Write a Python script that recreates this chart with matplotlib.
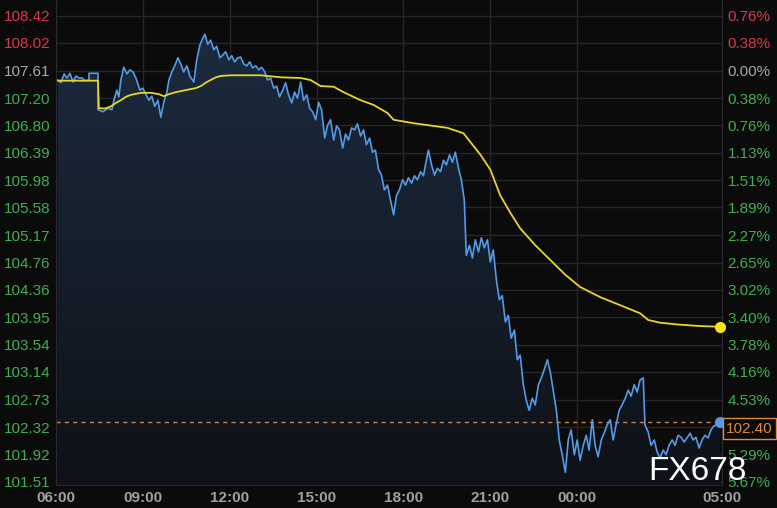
import numpy as np
import matplotlib
matplotlib.use("Agg")
from matplotlib import pyplot as plt
from matplotlib.patches import Polygon
from matplotlib.colors import LinearSegmentedColormap

# axis labels
price_ticks = [108.42, 108.02, 107.61, 107.20, 106.80, 106.39, 105.98, 105.58, 105.17,
               104.76, 104.36, 103.95, 103.54, 103.14, 102.73, 102.32, 101.92, 101.51]
pct_labels = ["0.76%", "0.38%", "0.00%", "0.38%", "0.76%", "1.13%", "1.51%", "1.89%", "2.27%",
              "2.65%", "3.02%", "3.40%", "3.78%", "4.16%", "4.53%", "4.91%", "5.29%", "5.67%"]
ref_price = 107.61
time_ticks = [6, 9, 12, 15, 18, 21, 24, 29]
time_labels = ["06:00", "09:00", "12:00", "15:00", "18:00", "21:00", "00:00", "05:00"]
last_price = 102.40

# price series (hours since midnight of day one, >24 is next day)
t_price = [6.07, 6.17, 6.28, 6.38, 6.48, 6.59, 6.69, 6.79, 6.90, 7.00, 7.14, 7.14, 7.45, 7.45,
           7.62, 7.79, 7.93, 8.00, 8.10, 8.17, 8.24, 8.34, 8.45, 8.55, 8.66, 8.76, 8.90, 9.00,
           9.10, 9.21, 9.31, 9.41, 9.52, 9.62, 9.72, 9.83, 9.90, 10.00, 10.10, 10.21, 10.31,
           10.41, 10.52, 10.62, 10.76, 10.86, 10.97, 11.07, 11.14, 11.24, 11.34, 11.45, 11.55,
           11.66, 11.76, 11.86, 11.97, 12.07, 12.17, 12.28, 12.38, 12.48, 12.59, 12.69, 12.79,
           12.90, 13.00, 13.10, 13.21, 13.31, 13.41, 13.52, 13.62, 13.72, 13.83, 13.93, 14.03,
           14.14, 14.24, 14.34, 14.45, 14.55, 14.66, 14.76, 14.86, 14.97, 15.07, 15.17, 15.28,
           15.38, 15.48, 15.59, 15.69, 15.79, 15.90, 16.00, 16.10, 16.21, 16.31, 16.41, 16.52,
           16.62, 16.72, 16.83, 16.93, 17.03, 17.14, 17.24, 17.34, 17.45, 17.55, 17.66, 17.76,
           17.86, 17.97, 18.07, 18.17, 18.28, 18.38, 18.48, 18.59, 18.69, 18.79, 18.86, 18.97,
           19.07, 19.17, 19.28, 19.38, 19.48, 19.59, 19.69, 19.79, 19.90, 20.00, 20.10, 20.17,
           20.28, 20.38, 20.48, 20.59, 20.69, 20.79, 20.90, 21.00, 21.10, 21.21, 21.31, 21.41,
           21.52, 21.62, 21.72, 21.83, 21.93, 22.03, 22.14, 22.24, 22.34, 22.45, 22.55, 22.66,
           22.76, 22.86, 22.97, 23.07, 23.17, 23.28, 23.38, 23.48, 23.59, 23.69, 23.79, 23.90,
           24.00, 24.10, 24.21, 24.31, 24.41, 24.52, 24.62, 24.72, 24.83, 24.93, 25.03, 25.14,
           25.24, 25.34, 25.45, 25.55, 25.66, 25.76, 25.86, 25.97, 26.07, 26.17, 26.28, 26.34,
           26.45, 26.55, 26.66, 26.76, 26.86, 26.97, 27.07, 27.17, 27.28, 27.38, 27.48, 27.59,
           27.69, 27.79, 27.90, 28.00, 28.10, 28.21, 28.31, 28.41, 28.52, 28.62, 28.72, 28.83,
           28.93]
price = [107.47, 107.43, 107.56, 107.50, 107.57, 107.44, 107.53, 107.50, 107.50, 107.46, 107.47,
         107.57, 107.57, 107.03, 107.00, 107.05, 107.03, 107.17, 107.32, 107.22, 107.47, 107.66,
         107.56, 107.62, 107.59, 107.50, 107.32, 107.35, 107.26, 107.17, 107.23, 107.08, 107.17,
         106.92, 107.14, 107.29, 107.47, 107.59, 107.68, 107.80, 107.71, 107.59, 107.68, 107.53,
         107.44, 107.77, 107.99, 108.09, 108.15, 108.00, 108.06, 107.92, 107.97, 107.80, 107.84,
         107.89, 107.77, 107.83, 107.74, 107.80, 107.81, 107.71, 107.68, 107.74, 107.65, 107.68,
         107.62, 107.66, 107.59, 107.47, 107.50, 107.35, 107.38, 107.22, 107.32, 107.43, 107.25,
         107.13, 107.29, 107.20, 107.44, 107.17, 107.25, 107.05, 107.00, 106.88, 107.14, 107.03,
         106.61, 106.80, 106.88, 106.58, 106.79, 106.73, 106.46, 106.67, 106.58, 106.76, 106.73,
         106.82, 106.64, 106.73, 106.51, 106.61, 106.40, 106.43, 106.14, 106.06, 105.84, 105.91,
         105.69, 105.47, 105.76, 105.84, 105.99, 105.91, 106.02, 105.94, 106.05, 105.99, 106.11,
         106.05, 106.28, 106.43, 106.21, 106.06, 106.16, 106.11, 106.28, 106.21, 106.36, 106.25,
         106.40, 106.16, 105.99, 105.69, 104.87, 105.02, 104.83, 105.10, 104.92, 105.13, 104.98,
         105.10, 104.77, 104.95, 104.50, 104.21, 104.27, 103.88, 103.98, 103.64, 103.76, 103.32,
         103.39, 102.95, 102.72, 102.57, 102.75, 102.65, 102.95, 103.05, 103.17, 103.32, 103.14,
         102.87, 102.57, 102.13, 101.91, 101.65, 102.13, 102.28, 101.91, 102.13, 101.83, 102.05,
         102.20, 101.98, 102.43, 102.05, 101.88, 102.13, 102.23, 102.35, 102.43, 102.13, 102.35,
         102.57, 102.65, 102.75, 102.87, 102.78, 102.95, 102.84, 103.02, 103.05, 102.35, 102.25,
         102.05, 102.13, 101.95, 101.86, 101.98, 101.91, 102.05, 102.13, 102.05, 102.20, 102.17,
         102.10, 102.16, 102.23, 102.13, 102.17, 102.01, 102.13, 102.20, 102.16, 102.28, 102.34,
         102.35, 102.40]

# average line
t_avg = [6.07, 7.45, 7.48, 7.72, 7.90, 8.07, 8.24, 8.41, 8.59, 8.93, 9.28, 9.55, 9.72, 9.90,
         10.14, 10.48, 10.83, 11.00, 11.17, 11.34, 11.52, 11.69, 12.03, 13.07, 13.76, 14.45,
         14.79, 15.14, 15.59, 15.93, 16.52, 16.97, 17.45, 17.66, 18.34, 19.52, 20.07, 20.31,
         20.66, 21.00, 21.34, 21.69, 22.03, 22.55, 23.07, 23.59, 24.10, 24.79, 25.48, 26.17,
         26.45, 26.86, 27.55, 28.24, 28.93]
avg = [107.46, 107.46, 107.05, 107.05, 107.08, 107.13, 107.17, 107.22, 107.25, 107.28, 107.28,
       107.26, 107.23, 107.26, 107.29, 107.32, 107.35, 107.38, 107.43, 107.47, 107.51, 107.53,
       107.54, 107.54, 107.51, 107.50, 107.47, 107.38, 107.37, 107.29, 107.17, 107.10, 106.98,
       106.88, 106.83, 106.76, 106.68, 106.55, 106.36, 106.14, 105.76, 105.50, 105.27, 105.02,
       104.80, 104.58, 104.40, 104.25, 104.13, 104.01, 103.91, 103.87, 103.84, 103.82, 103.81]

bg = "#0b0b0c"
red = "#d8384c"
green = "#3fae52"
grey = "#a8a8a8"

fig = plt.figure(figsize=(7.77, 5.08), dpi=100, facecolor=bg)
ax = fig.add_axes([56 / 777, 23 / 508, 666 / 777, 485 / 508])
ax.set_facecolor(bg)
ax.set_xlim(6, 29)
ax.set_ylim(101.462, 108.657)

# grid
for p in price_ticks:
    ax.axhline(p, color="#262628", lw=1, zorder=0)
for t in time_ticks:
    ax.axvline(t, color="#262628", lw=1, zorder=0)
for s in ax.spines.values():
    s.set_color("#2a2a2c")
ax.spines["top"].set_visible(False)

# gradient fill under price
verts = [(t_price[0], 101.462)] + list(zip(t_price, price)) + [(t_price[-1], 101.462)]
poly = Polygon(verts, closed=True, facecolor="none", edgecolor="none")
ax.add_patch(poly)
cmap = LinearSegmentedColormap.from_list("f", ["#0e1218", "#1c2b3f"])
grad = np.linspace(0, 1, 256).reshape(-1, 1)
im = ax.imshow(grad, extent=[6, 29, 101.462, 108.2], origin="lower", aspect="auto",
               cmap=cmap, zorder=1)
im.set_clip_path(poly)

ax.plot(t_price, price, color="#559ae6", lw=1.2, zorder=3)
ax.plot(t_avg, avg, color="#e6d629", lw=1.3, zorder=3)
ax.plot(t_price[-1], price[-1], "o", color="#559ae6", ms=7, zorder=5, clip_on=False)
ax.plot(t_avg[-1], avg[-1], "o", color="#f2e51a", ms=7, zorder=5, clip_on=False)
ax.axhline(last_price, color="#d08040", lw=1, ls=(0, (3, 3)), zorder=2)

# left axis
ax.set_yticks(price_ticks)
ax.set_yticklabels([f"{p:.2f}" for p in price_ticks])
for lab, p in zip(ax.get_yticklabels(), price_ticks):
    lab.set_color(red if p > ref_price else (grey if p == ref_price else green))
ax.set_xticks(time_ticks)
ax.set_xticklabels(time_labels)
ax.tick_params(axis="y", length=0, pad=4, labelsize=11)
ax.tick_params(axis="x", length=0, pad=4, labelsize=11, colors="#a0a0a0")
for lab in ax.get_yticklabels() + ax.get_xticklabels():
    lab.set_fontfamily("Liberation Sans")
for lab in ax.get_xticklabels():
    lab.set_fontweight("bold")

# right axis
ax2 = ax.twinx()
ax2.set_ylim(ax.get_ylim())
ax2.set_yticks(price_ticks)
ax2.set_yticklabels(pct_labels)
ax2.tick_params(axis="y", length=0, pad=4, labelsize=11)
for s in ax2.spines.values():
    s.set_visible(False)
for lab, p in zip(ax2.get_yticklabels(), price_ticks):
    lab.set_fontfamily("Liberation Sans")
    lab.set_color(red if p > ref_price else (grey if p == ref_price else green))
    # the last-price box sits on top of this one
    if abs(p - last_price) < 0.2:
        lab.set_visible(False)

ax2.text(1.006, last_price, f"{last_price:.2f}", transform=ax2.get_yaxis_transform(),
         ha="left", va="top", fontsize=11, color="#e0893c", family="Liberation Sans",
         bbox=dict(boxstyle="square,pad=0.22", facecolor=bg, edgecolor="#e0893c", lw=1),
         zorder=10, clip_on=False)

fig.text(697 / 777, 1 - 471 / 508, "FX678", color="white", fontsize=24,
         family="Liberation Sans", ha="center", va="center", zorder=20)

fig.savefig("out.png", dpi=100, facecolor=bg)
